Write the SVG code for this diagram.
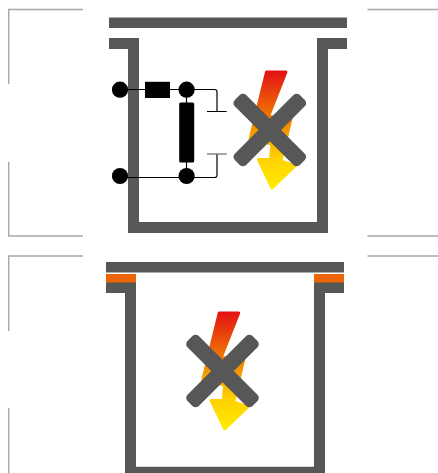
<svg xmlns="http://www.w3.org/2000/svg" xmlns:xlink="http://www.w3.org/1999/xlink" width="438" height="473" viewBox="0 0 438 473">
<style>
.w{fill:#575757}
.o{fill:#ec6408}
.g{fill:none;stroke:#a8a8a8;stroke-width:1.4}
.k{fill:none;stroke:#000;stroke-width:1.2}
.d{fill:#000}
.b{fill:url(#bolt);stroke:url(#bolt);stroke-width:3;stroke-linejoin:round}
</style>
<defs>
<linearGradient id="bolt" gradientUnits="userSpaceOnUse" x1="0" y1="70" x2="0" y2="190">
<stop offset="0" stop-color="#e30f14"/><stop offset="0.45" stop-color="#f08a00"/><stop offset="0.72" stop-color="#ffcf00"/><stop offset="1" stop-color="#ffed00"/>
</linearGradient>
<g id="crossbolt">
<polygon class="b" points="266.500,72 286,72 268.500,116.500 291,118.500 281,161 295,166 272,188 258.500,159.500 270.500,159.500 272,144 250,139"/>
<rect class="w" x="223.800" y="122" width="92" height="16" rx="4.500" transform="rotate(45 269.800 130)"/>
<rect class="w" x="223.800" y="122" width="92" height="16" rx="4.500" transform="rotate(-45 269.800 130)"/>
</g>
</defs>
<rect width="438" height="473" fill="#fff"/>
<g id="frame-lines">
<path class="g" d="M83 9.500H8.700V84M8.700 162V236H83M367.500 9.500H438M367.500 236H438"/>
<path class="g" d="M83 256H8.700V331M8.700 408V473M367.500 256H438"/>
</g>
<g id="upper-housing">
<rect class="w" x="109" y="17.500" width="238" height="10.500"/>
<path class="w" d="M109 38H139V222H317V38H347V49H328V233H128V49H109Z"/>
</g>
<g id="connectors">
<path class="k" d="M120 89.500H214.500a2.500 2.500 0 0 1 2.500 2.500V111.500M207 111.500H226.700"/>
<path class="k" d="M120 177.500H214.500a2.500 2.500 0 0 0 2.500-2.500V154"/>
<path d="M207 154H226.700" fill="none" stroke="#666" stroke-width="1.200"/>
<path class="k" d="M186.500 90V176"/>
</g>
<g id="terminal-top-left"><circle class="d" cx="120" cy="89.700" r="8.100"/></g>
<g id="terminal-bottom-left"><circle class="d" cx="120" cy="176" r="8.100"/></g>
<g id="node-top"><circle class="d" cx="186.600" cy="89.700" r="8.100"/></g>
<g id="node-bottom"><circle class="d" cx="186.600" cy="176" r="8.100"/></g>
<g id="resistor-series"><rect class="d" x="145" y="81.800" width="25" height="16.200"/></g>
<g id="resistor-shunt"><rect class="d" x="179.200" y="102.500" width="15" height="60" rx="1.500"/></g>
<g id="upper-surge"><use xlink:href="#crossbolt"/></g>
<g id="lower-housing">
<rect class="w" x="106" y="262" width="238" height="10.500"/>
<path class="w" d="M106 282H136V466.700H314V282H344V293H325V473H125V293H106Z"/>
<rect class="o" x="106" y="274" width="30" height="8.500"/>
<rect class="o" x="314" y="274" width="30" height="8.500"/>
</g>
<g id="lower-surge"><use xlink:href="#crossbolt" transform="translate(-47.300 241)"/></g>
</svg>
